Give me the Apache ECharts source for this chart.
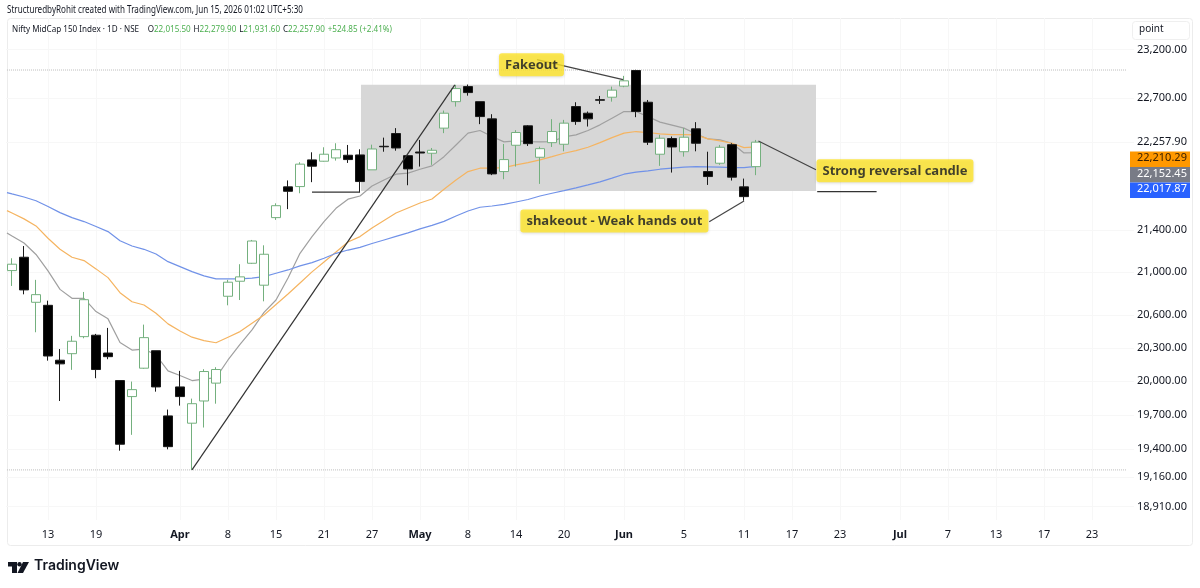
<!DOCTYPE html>
<html><head><meta charset="utf-8">
<style>html,body{margin:0;padding:0;background:#fff}#c{width:1200px;height:588px}</style>
<script src="https://cdn.jsdelivr.net/npm/echarts@6/dist/echarts.min.js"></script>
</head><body><div id="c"></div>
<script>
const categories = ['','','','13','','','','19','','','','','','','Apr','','','','8','','','','15','','','','21','','','','27','','','','May','','','','8','','','','14','','','','20','','','','','Jun','','','','','5','','','','','11','','','','17','','','','23','','','','','Jul','','','','7','','','','13','','','','17','','','','23','','',''];
const candles = [
[21015,21075,20871,21131],[21141,20834,20793,21247],[20719,20790,20443,20928],[20691,20227,20185,20734],[20189,20156,19824,20290],
[20248,20361,20102,20410],[20403,20743,20388,20815],[20416,20105,20027,20428],[20254,20221,20198,20483],[20006,19444,19388,20006],
[19863,19925,19526,19997],[20117,20394,20111,20513],[20275,19949,19907,20275],[19692,19423,19400,19748],[19949,19863,19783,20093],
[19628,19800,19222,19845],[19824,20087,19590,20108],[19983,20105,19800,20126],[20775,20906,20691,20928],[20915,20956,20740,21075],
[21084,21295,21078,21305],[20878,21169,20728,21254],[21519,21634,21497,21657],[21817,21774,21601,21880],[21820,22040,21755,22059],
[22082,22020,21863,22157],[22069,22138,22065,22207],[22101,22183,22075,22247],[22128,22085,22052,22230],[22131,21869,21765,22187],
[21984,22190,21984,22233],[22217,22212,22163,22303],[22344,22200,22173,22398],[22124,21993,21833,22128],[22160,22150,22016,22280],
[22148,22177,22033,22200],[22398,22548,22348,22575],[22665,22798,22615,22836],[22818,22757,22726,22839],[22665,22514,22438,22665],
[22491,21944,21932,22538],[21967,22085,21892,22240],[22227,22354,22016,22378],[22421,22243,22220,22428],[22108,22193,21846,22213],
[22253,22364,22210,22488],[22237,22448,22167,22481],[22615,22464,22431,22659],[22548,22491,22414,22565],[22685,22679,22642,22723],
[22710,22782,22665,22818],[22823,22877,22812,22928],[22983,22565,22508,22990],[22659,22257,22230,22682],[22138,22297,22023,22331],
[22294,22210,21957,22314],[22163,22307,22114,22398],[22391,22247,22167,22458],[21967,21918,21836,22163],[22049,22207,22033,22230],
[22233,21912,21879,22247],[21817,21722,21682,21898],[22015.5,22257.9,21931.6,22279.9]];
const greyMA = [21343,21276,21167,21012,20839,20756,20756,20633,20566,20349,20281,20290,20236,20093,20051,20006,20018,20033,20191,20332,20465,20625,20740,20946,21178,21337,21481,21609,21697,21728,21826,21885,21941,21951,21990,22023,22114,22230,22348,22374,22314,22261,22271,22264,22261,22264,22311,22331,22374,22431,22498,22565,22565,22514,22458,22428,22398,22341,22290,22280,22247,22151,22152.45];
const orangeMA = [21564,21507,21439,21321,21216,21141,21109,21031,20949,20808,20724,20694,20618,20520,20455,20398,20366,20347,20398,20449,20526,20602,20699,20796,20899,21003,21096,21190,21285,21337,21420,21492,21564,21612,21660,21699,21794,21885,21967,22000,22000,22006,22033,22055,22082,22114,22148,22173,22207,22253,22303,22348,22364,22354,22341,22334,22334,22331,22290,22270,22247,22203,22210.29];
const blueMA = [21748,21718,21682,21627,21567,21519,21481,21433,21385,21298,21247,21216,21171,21099,21052,21005,20965,20937,20937,20937,20944,20959,20990,21021,21059,21090,21131,21178,21209,21235,21271,21305,21339,21372,21411,21444,21483,21535,21583,21619,21631,21646,21670,21694,21728,21755,21780,21807,21836,21866,21902,21941,21961,21974,21990,22000,22010,22016,22013,22010,22006,22006,22017.87];
const maLead = {grey:21372, orange:21586, blue:21761};
const priceTicks = [23200,22700,22257.9,21400,21000,20600,20300,20000,19700,19400,19160,18910];
const priceTags = [['22,210.29','#ff9800','#3a2000'],['22,152.45','#787b86','#ffffff'],['22,017.87','#2962ff','#ffffff']];
const dottedLevels = [22988,19222];
const rangeBox = [[29.08,22836],[67,21777]];
const trendLine = [[15,19222],[36.9,22836]];
const baseLeft = [[25,21765],[29,21765]];
const baseRight = [[67.1,21770],[72.05,21770]];
const pointers = [
  [[43.75,23095],[50.92,22890]],
  [[62.2,22270],[67,21985]],
  [[58.1,21480],[61,21680]]
];
const callouts = [
  {name:'Fakeout', value:[43.29,23041]},
  {name:'Strong reversal candle', value:[73.58,21974]},
  {name:'shakeout - Weak hands out', value:[50.2,21487]}
];
const headerText = 'StructuredbyRohit created with TradingView.com, Jun 15, 2026 01:02 UTC+5:30';
const symbolText = 'Nifty MidCap 150 Index · 1D · NSE';
const ohlcText = ['22,015.50','22,279.90','21,931.60','22,257.90'];
const changeText = '+524.85 (+2.41%)';

const FONT = 'Noto Sans';
const withIndex = (a, lead) => [[-0.42, lead]].concat(a.map((v,i)=>[i,v]));
const overlay = (data, color, extra) => Object.assign({
  type:'line', xAxisIndex:1, yAxisIndex:0, data, symbol:'none', silent:true, animation:false, z:3,
  lineStyle:{color, width:1.2}
}, extra||{});

const chart = echarts.init(document.getElementById('c'), null, {renderer:'canvas'});
chart.setOption({
  animation:false,
  backgroundColor:'#fff',
  grid:{left:6, top:18, width:1128, height:502, containLabel:false},
  xAxis:[
    {type:'category', data:categories, boundaryGap:true, axisLine:{show:false}, axisTick:{show:false},
     splitLine:{show:true, alignWithLabel:true, interval:(i,v)=>v!=='', lineStyle:{color:'#f7f7f7',width:1}},
     axisLabel:{show:true, interval:(i,v)=>v!=='', margin:9, fontFamily:FONT, fontSize:11, color:'#131722', hideOverlap:false,
       formatter:v=>/[A-Za-z]/.test(v)?'{b|'+v+'}':v,
       rich:{b:{fontWeight:'bold',fontFamily:FONT,fontSize:11,color:'#131722'}}}},
    {type:'value', min:-0.5, max:93.5, show:false, splitLine:{show:false}}
  ],
  yAxis:[{type:'log', position:'right', min:18796, max:23529.3, logBase:10,
    axisLine:{show:false},
    axisTick:{show:false, customValues:priceTicks},
    splitLine:{show:true, lineStyle:{color:'#f7f7f7',width:1}},
    minorTick:{show:false}, minorSplitLine:{show:false},
    axisLabel:{show:true, customValues:priceTicks, margin:3, align:'left', fontFamily:FONT, fontSize:11, color:'#131722',
      formatter:v=>Number(v).toLocaleString('en-US',{minimumFractionDigits:2,maximumFractionDigits:2})}}],
  graphic:[
    {type:'rect', z:-10, silent:true, shape:{x:7.5,y:18.5,width:1185,height:527,r:3}, style:{fill:'none',stroke:'#ececec',lineWidth:1}},
    {type:'text', x:7, y:5.5, scaleX:0.807, z:20, style:{text:headerText, fontFamily:FONT, fontSize:10, fill:'#131722'}},
    {type:'text', x:12, y:23, scaleX:0.852, z:20, style:{
      text:'{n|'+symbolText+'}   {n|O}{g|'+ohlcText[0]+'} {n|H}{g|'+ohlcText[1]+'} {n|L}{g|'+ohlcText[2]+'} {n|C}{g|'+ohlcText[3]+'} {g|'+changeText+'}',
      rich:{n:{fontFamily:FONT,fontSize:9.5,fill:'#131722'},g:{fontFamily:FONT,fontSize:9.5,fill:'#4caf50'}}}},
    {type:'rect', silent:true, z:20, shape:{x:1132.5,y:21.5,width:57,height:18,r:3}, style:{fill:'#fff',stroke:'#efefef'}},
    {type:'text', left:1139, top:24, z:21, style:{text:'point', fontFamily:FONT, fontSize:10, fill:'#131722'}},
    ...priceTags.map((t,i)=>({type:'rect', silent:true, z:20, shape:{x:1130,y:151.5+i*15.5,width:60,height:15.5}, style:{fill:t[1]}})),
    ...priceTags.map((t,i)=>({type:'text', left:1137, top:151.5+i*15.5+1, z:21, style:{text:t[0], fontFamily:FONT, fontSize:11, fill:t[2]}})),
    {type:'group', left:8, top:562, z:20, children:[
      {type:'polygon', shape:{points:[[0,0],[9,0],[9,11],[4,11],[4,4.5],[0,4.5]]}, style:{fill:'#131722'}},
      {type:'circle', shape:{cx:11.5,cy:2.2,r:2.2}, style:{fill:'#131722'}},
      {type:'polygon', shape:{points:[[15,0],[21,0],[15,11],[9.5,11]]}, style:{fill:'#131722'}}
    ]},
    {type:'text', left:34, top:559, z:20, style:{text:'TradingView', fontFamily:'Inter', fontWeight:600, fontSize:14, fill:'#131722'}}
  ],
  series:[
    overlay([[rangeBox[0][0],rangeBox[0][1]]], '#000', {z:1, lineStyle:{opacity:0},
      markArea:{silent:true, itemStyle:{color:'#d7d7d7'}, data:[[{coord:rangeBox[0]},{coord:rangeBox[1]}]]}}),
    ...dottedLevels.map(v=>overlay([[-0.42,v],[92.92,v]], '#bdbdbd', {z:2, lineStyle:{color:'#bdbdbd',width:1,type:'dotted'}})),
    overlay(withIndex(greyMA,maLead.grey), '#a0a0a0'),
    overlay(withIndex(orangeMA,maLead.orange), '#f5b461'),
    overlay(withIndex(blueMA,maLead.blue), '#7192e8'),
    {type:'candlestick', data:candles, barWidth:9, z:5, silent:true,
      itemStyle:{color:'#ffffff', color0:'#000000', borderColor:'#74b07e', borderColor0:'#1a1a1a', borderWidth:1}},
    overlay(trendLine,'#333333',{z:6}),
    overlay(baseLeft,'#333333',{z:6}),
    overlay(baseRight,'#333333',{z:6}),
    ...pointers.map(p=>overlay(p,'#444444',{z:6})),
    {type:'scatter', xAxisIndex:1, yAxisIndex:0, data:callouts, symbolSize:0, silent:true, z:10,
      label:{show:true, position:'inside', formatter:p=>p.name, fontFamily:FONT, fontWeight:'bold', fontSize:13, color:'#131722',
        backgroundColor:'#ffe528', borderRadius:3, padding:[5,6,5,6], shadowColor:'rgba(0,0,0,0.18)', shadowBlur:3, shadowOffsetY:1}}
  ]
});
</script></body></html>
